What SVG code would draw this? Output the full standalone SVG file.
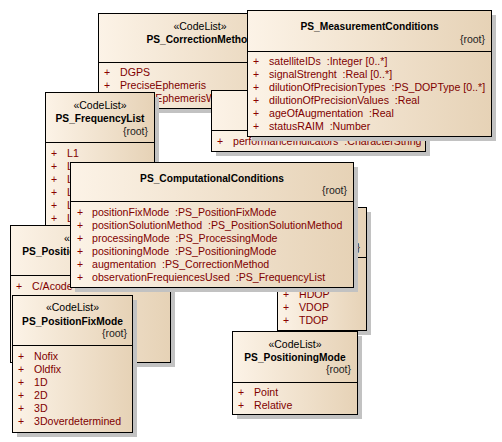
<svg xmlns="http://www.w3.org/2000/svg" width="502" height="442" viewBox="0 0 502 442">
<defs>
<linearGradient id="g" x1="0" y1="0" x2="1" y2="0">
<stop offset="0" stop-color="#fcf3e7"/>
<stop offset="1" stop-color="#e6d2b6"/>
</linearGradient>
<style>
.box{fill:url(#g);stroke:#000;stroke-width:1}
.sh{fill:#c2c2c2}
.dv{stroke:#000;stroke-width:1}
text{font-family:"Liberation Sans",Arial,sans-serif;white-space:pre}
.t{font-size:10.2px;font-weight:bold;fill:#000;text-anchor:middle}
.st{font-size:10.5px;fill:#000;text-anchor:middle}
.r{font-size:10.5px;fill:#222;text-anchor:end}
.p{font-size:10.5px;fill:#8b0000}
.i{font-size:10.6px;fill:#800000}
</style>
</defs>
<rect width="502" height="442" fill="#fff"/>
<g id="connectors"/>

<g id="PS_CorrectionMethod">
<rect class="sh" x="103" y="18" width="204" height="95"/>
<rect class="box" x="98.5" y="13.5" width="204" height="95"/>
<line class="dv" x1="98.5" y1="62.5" x2="302.5" y2="62.5"/>
<text class="st" x="200" y="29.5">«CodeList»</text>
<text class="t" x="200" y="43">PS_CorrectionMethod</text>
<text class="p" x="104" y="76">+</text><text class="i" x="120" y="76">DGPS</text>
<text class="p" x="104" y="89">+</text><text class="i" x="120" y="89">PreciseEphemeris</text>
<text class="p" x="104" y="102">+</text><text class="i" x="120" y="102">PreciseEphemerisWAAS</text>
</g>

<g id="PS_PerformanceBox">
<rect class="sh" x="216" y="95" width="214" height="61"/>
<rect class="box" x="211.5" y="90.5" width="214" height="61"/>
<line class="dv" x1="211.5" y1="130.5" x2="425.5" y2="130.5"/>
<text class="p" x="217" y="145">+</text><text class="i" x="233" y="145">performanceIndicators &#160;:CharacterString</text>
</g>

<g id="PS_MeasurementConditions">
<rect class="sh" x="252" y="15" width="244" height="126"/>
<rect class="box" x="247.5" y="10.5" width="244" height="126"/>
<line class="dv" x1="247.5" y1="51.5" x2="491.5" y2="51.5"/>
<text class="t" x="369.5" y="30">PS_MeasurementConditions</text>
<text class="r" x="485" y="43">{root}</text>
<text class="p" x="253" y="65">+</text><text class="i" x="269" y="65">satelliteIDs &#160;:Integer [0..*]</text>
<text class="p" x="253" y="78">+</text><text class="i" x="269" y="78">signalStrenght &#160;:Real [0..*]</text>
<text class="p" x="253" y="91">+</text><text class="i" x="269" y="91">dilutionOfPrecisionTypes &#160;:PS_DOPType [0..*]</text>
<text class="p" x="253" y="104">+</text><text class="i" x="269" y="104">dilutionOfPrecisionValues &#160;:Real</text>
<text class="p" x="253" y="117">+</text><text class="i" x="269" y="117">ageOfAugmentation &#160;:Real</text>
<text class="p" x="253" y="130">+</text><text class="i" x="269" y="130">statusRAIM &#160;:Number</text>
</g>

<g id="PS_FrequencyList">
<rect class="sh" x="50" y="97" width="109" height="136"/>
<rect class="box" x="45.5" y="92.5" width="109" height="136"/>
<line class="dv" x1="45.5" y1="142.5" x2="154.5" y2="142.5"/>
<text class="st" x="100" y="109">«CodeList»</text>
<text class="t" x="100" y="122">PS_FrequencyList</text>
<text class="r" x="148" y="134.5">{root}</text>
<text class="p" x="51" y="157">+</text><text class="i" x="67" y="157">L1</text>
<text class="p" x="51" y="170">+</text><text class="i" x="67" y="170">L2</text>
<text class="p" x="51" y="183">+</text><text class="i" x="67" y="183">L5</text>
<text class="p" x="51" y="196">+</text><text class="i" x="67" y="196">L1L2</text>
<text class="p" x="51" y="209">+</text><text class="i" x="67" y="209">L1L5</text>
<text class="p" x="51" y="222">+</text><text class="i" x="67" y="222">L2L5</text>
</g>

<g id="PS_DOPType">
<rect class="sh" x="282" y="212" width="89" height="123"/>
<rect class="box" x="277.5" y="207.5" width="89" height="123"/>
<line class="dv" x1="277.5" y1="257.5" x2="366.5" y2="257.5"/>
<text class="r" x="360" y="250.5">{root}</text>
<text class="p" x="283" y="298">+</text><text class="i" x="299" y="298">HDOP</text>
<text class="p" x="283" y="311">+</text><text class="i" x="299" y="311">VDOP</text>
<text class="p" x="283" y="324">+</text><text class="i" x="299" y="324">TDOP</text>
</g>

<g id="PS_PositionSolutionMethod">
<rect class="sh" x="15" y="230" width="160" height="137"/>
<rect class="box" x="10.5" y="225.5" width="160" height="137"/>
<line class="dv" x1="10.5" y1="275.5" x2="170.5" y2="275.5"/>
<text class="st" x="90.5" y="242">«CodeList»</text>
<text class="t" x="90.5" y="255">PS_PositionSolutionMethod</text>
<text class="p" x="16" y="290">+</text><text class="i" x="32" y="290">C/Acode</text>
</g>

<g id="PS_ComputationalConditions">
<rect class="sh" x="75" y="167" width="283" height="125"/>
<rect class="box" x="70.5" y="162.5" width="283" height="125"/>
<line class="dv" x1="70.5" y1="201.5" x2="353.5" y2="201.5"/>
<text class="t" x="212" y="181.5">PS_ComputationalConditions</text>
<text class="r" x="347" y="193.5">{root}</text>
<text class="p" x="77" y="216">+</text><text class="i" x="92" y="216">positionFixMode &#160;:PS_PositionFixMode</text>
<text class="p" x="77" y="229">+</text><text class="i" x="92" y="229">positionSolutionMethod &#160;:PS_PositionSolutionMethod</text>
<text class="p" x="77" y="242">+</text><text class="i" x="92" y="242">processingMode &#160;:PS_ProcessingMode</text>
<text class="p" x="77" y="255">+</text><text class="i" x="92" y="255">positioningMode &#160;:PS_PositioningMode</text>
<text class="p" x="77" y="268">+</text><text class="i" x="92" y="268">augmentation &#160;:PS_CorrectionMethod</text>
<text class="p" x="77" y="281">+</text><text class="i" x="92" y="281">observationFrequiencesUsed &#160;:PS_FrequencyList</text>
</g>

<g id="PS_PositionFixMode">
<rect class="sh" x="17" y="300" width="120" height="137"/>
<rect class="box" x="12.5" y="295.5" width="120" height="137"/>
<line class="dv" x1="12.5" y1="345.5" x2="132.5" y2="345.5"/>
<text class="st" x="72.5" y="311">«CodeList»</text>
<text class="t" x="72.5" y="325">PS_PositionFixMode</text>
<text class="r" x="127" y="336.5">{root}</text>
<text class="p" x="18" y="359.5">+</text><text class="i" x="34" y="359.5">Nofix</text>
<text class="p" x="18" y="372.5">+</text><text class="i" x="34" y="372.5">Oldfix</text>
<text class="p" x="18" y="385.5">+</text><text class="i" x="34" y="385.5">1D</text>
<text class="p" x="18" y="398.5">+</text><text class="i" x="34" y="398.5">2D</text>
<text class="p" x="18" y="411.5">+</text><text class="i" x="34" y="411.5">3D</text>
<text class="p" x="18" y="424.5">+</text><text class="i" x="34" y="424.5">3Doverdetermined</text>
</g>

<g id="PS_PositioningMode">
<rect class="sh" x="237" y="336" width="125" height="83"/>
<rect class="box" x="232.5" y="331.5" width="125" height="83"/>
<line class="dv" x1="232.5" y1="382.5" x2="357.5" y2="382.5"/>
<text class="st" x="295" y="348">«CodeList»</text>
<text class="t" x="295" y="361">PS_PositioningMode</text>
<text class="r" x="351" y="373">{root}</text>
<text class="p" x="238" y="396">+</text><text class="i" x="254" y="396">Point</text>
<text class="p" x="238" y="409">+</text><text class="i" x="254" y="409">Relative</text>
</g>
</svg>
